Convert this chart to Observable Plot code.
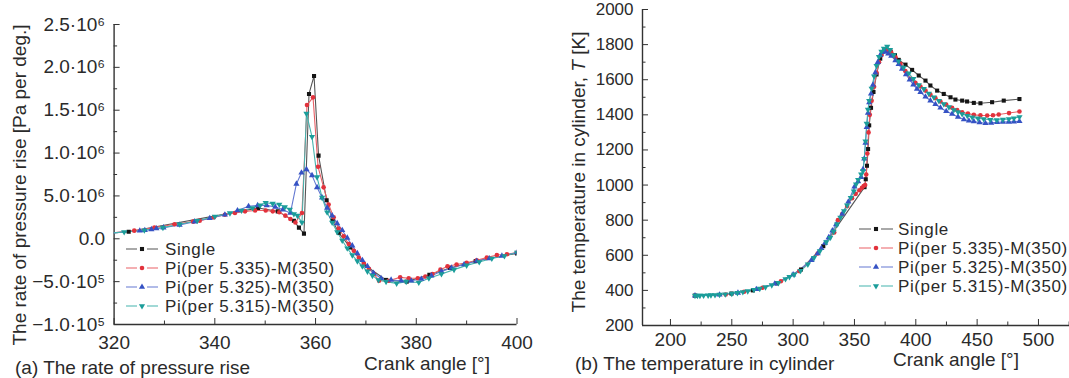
<!DOCTYPE html>
<html>
<head>
<meta charset="utf-8">
<script src="https://cdn.jsdelivr.net/npm/d3@7"></script>
<script src="https://cdn.jsdelivr.net/npm/@observablehq/plot@0.6"></script>
<style>
html, body { margin: 0; padding: 0; background: #fff; }
#wrap { position: relative; width: 1069px; height: 378px; overflow: hidden; background: #fff; }
#left { position: absolute; left: 0; top: 0; }
#right { position: absolute; left: 540px; top: 0; }
</style>
</head>
<body>
<div id="wrap"><div id="left"></div><div id="right"></div></div>
<script>
// ---------- series ----------
const seriesNames = ["Single", "Pi(per 5.335)-M(350)", "Pi(per 5.325)-M(350)", "Pi(per 5.315)-M(350)"];
const markColors = ["#151515", "#e2323c", "#3552c4", "#1b9d9a"];
const lineColors = ["#555555", "#ea6066", "#6479d2", "#45b3ae"];
const markSymbols = ["square", "circle", "triangle", "triangle"];
const markRotate = [0, 0, 0, 180];

// ---------- panel (a): rate of pressure rise, units of 10^6 Pa/deg ----------
const aSingleX = [318, 322.9, 348.6, 352.5, 355.7, 356.7, 357.7, 358.7, 359.7, 360.6, 362.2, 363.4, 364.6, 366.9, 369.6, 374.0, 378.1, 382.6, 386.7, 391.8, 400];
const aSingleY = [0.06, 0.082, 0.36, 0.32, 0.21, 0.13, 0.06, 1.69, 1.90, 0.97, 0.45, 0.21, 0.07, -0.10, -0.30, -0.48, -0.50, -0.42, -0.34, -0.26, -0.17];

const a5335X = [318, 324, 328, 332, 335.7, 337, 339.8, 342, 344, 346, 348, 350.1, 351.5, 352.8, 354, 355, 356, 357.3, 358.3, 359.5, 360.5, 361.6, 362.6, 363.6, 364.6, 365.6, 366.6, 367.6, 368.6, 369.6, 370.6, 371.6, 372.6, 374.5, 376.8, 378.5, 380.3, 381.8, 383.2, 384.8, 386.2, 388, 390, 392, 394, 396, 398, 400];
const a5335Y = [0.06, 0.095, 0.13, 0.17, 0.20, 0.21, 0.25, 0.28, 0.30, 0.32, 0.33, 0.33, 0.32, 0.31, 0.27, 0.23, 0.19, 0.30, 1.56, 1.65, 0.84, 0.60, 0.40, 0.25, 0.12, 0.03, -0.06, -0.14, -0.22, -0.29, -0.35, -0.41, -0.49, -0.49, -0.45, -0.46, -0.46, -0.44, -0.41, -0.36, -0.32, -0.30, -0.28, -0.25, -0.22, -0.19, -0.18, -0.16];

const a5325X = [318, 325.1, 326.1, 327.4, 328.4, 329.8, 333, 336, 339, 342, 344.5, 346.7, 348.5, 350.3, 352, 353.5, 355, 356.2, 357.2, 358.2, 359.3, 360.3, 361.3, 362.3, 363.3, 364.3, 365.3, 366.3, 367.3, 368.3, 369.3, 370.3, 371.5, 373, 375, 377, 379, 381, 383, 385, 387, 389.5, 392, 394.5, 397, 400];
const a5325Y = [0.06, 0.094, 0.10, 0.11, 0.12, 0.13, 0.16, 0.20, 0.24, 0.28, 0.33, 0.38, 0.39, 0.39, 0.37, 0.34, 0.30, 0.64, 0.77, 0.81, 0.74, 0.60, 0.48, 0.36, 0.27, 0.18, 0.10, 0.01, -0.08, -0.17, -0.25, -0.32, -0.40, -0.46, -0.48, -0.49, -0.49, -0.47, -0.43, -0.38, -0.34, -0.30, -0.26, -0.23, -0.20, -0.16];

const a5315X = [318, 322, 326, 329.7, 333, 336.5, 340, 343, 345.3, 347.5, 349, 350.1, 351.5, 352.8, 353.9, 354.9, 355.7, 356.4, 357.3, 358.2, 359.3, 360.3, 361.3, 362.3, 363.3, 364.3, 365.3, 366.3, 367.3, 368.3, 369.3, 370.3, 371.3, 372.5, 374, 376.1, 378, 380.5, 382.5, 385, 387.5, 390, 392.5, 395, 397.5, 400];
const a5315Y = [0.06, 0.08, 0.10, 0.13, 0.17, 0.21, 0.26, 0.30, 0.33, 0.36, 0.39, 0.42, 0.41, 0.40, 0.37, 0.34, 0.29, 0.27, 0.19, 1.46, 1.19, 0.72, 0.48, 0.31, 0.19, 0.08, -0.02, -0.11, -0.19, -0.26, -0.32, -0.38, -0.43, -0.48, -0.50, -0.52, -0.50, -0.51, -0.46, -0.41, -0.36, -0.31, -0.27, -0.23, -0.20, -0.16];

const aXTicks = [320, 340, 360, 380, 400];
const aXMinor = [330, 350, 370, 390];
const aYTicks = [-1, -0.5, 0, 0.5, 1, 1.5, 2, 2.5];
const aYTickLabels = ["\u22121.0\u00b710\u2075", "\u22125.0\u00b710\u2075", "0.0", "5.0\u00b710\u2076", "1.0\u00b710\u2076", "1.5\u00b710\u2076", "2.0\u00b710\u2076", "2.5\u00b710\u2076"];
const aYMinor = [-0.75, -0.25, 0.25, 0.75, 1.25, 1.75, 2.25];

// ---------- panel (b): temperature in cylinder, K ----------
const bSingleX = [220, 249.8, 267.2, 286.8, 306.4, 324.6, 358.2, 359.2, 360.2, 361.1, 362, 363.5, 365.5, 368, 371, 375.3, 379.5, 383, 386.1, 391.6, 397, 402.4, 407.9, 411.9, 417.4, 422.8, 428.3, 432.3, 437.8, 441.8, 447.3, 452.7, 462.2, 471.7, 484.5];
const bSingleY = [370, 382, 400, 440, 519, 652, 988, 1033, 1110, 1205, 1340, 1440, 1530, 1630, 1720, 1768, 1760, 1740, 1713, 1686, 1656, 1624, 1595, 1567, 1538, 1519, 1500, 1487, 1481, 1476, 1468, 1466, 1472, 1481, 1490];

const b5335X = [220, 245, 260, 275, 290, 305, 320, 333.5, 336.5, 340, 344, 348, 351, 354, 356.1, 357.5, 358.7, 359.6, 360.5, 361.5, 362.5, 364, 366, 368, 370, 372, 374.5, 377, 380, 383.5, 387.5, 391.5, 395.6, 399.7, 403.8, 407.9, 411.9, 416, 420.1, 424.8, 429.6, 433.7, 437.8, 442.5, 447.3, 452.7, 458.2, 462.9, 467.6, 476, 484.5];
const b5335Y = [370, 377, 392, 415, 452, 510, 610, 730, 800, 835, 880, 925, 950, 970, 985, 995, 1000, 1060, 1180, 1300, 1400, 1480, 1560, 1640, 1700, 1740, 1763, 1768, 1755, 1728, 1690, 1650, 1605, 1582, 1561, 1538, 1515, 1495, 1476, 1458, 1440, 1427, 1415, 1407, 1400, 1397, 1396, 1398, 1402, 1410, 1419];

const b5325X = [220, 240, 255, 270, 285, 300, 315, 320, 323, 326, 329, 332, 335, 340, 345, 350, 353, 355.5, 357, 358, 359, 360, 361, 362, 363.5, 365, 367, 369, 371, 373, 375, 377.5, 380, 383.4, 386, 388.8, 392, 395, 398, 401, 403.8, 407.9, 411.9, 416, 420.1, 424.8, 429.6, 434.4, 439.2, 443.3, 447.3, 452, 456.8, 461.5, 466.3, 471, 475.8, 480, 484.5];
const b5325Y = [370, 375, 386, 406, 438, 490, 572, 610, 640, 670, 702, 740, 775, 835, 905, 990, 1020, 1045, 1090, 1150, 1240, 1330, 1410, 1470, 1520, 1570, 1640, 1700, 1740, 1758, 1760, 1748, 1735, 1710, 1688, 1662, 1630, 1600, 1572, 1548, 1529, 1503, 1481, 1460, 1440, 1420, 1405, 1388, 1373, 1366, 1362, 1356, 1352, 1354, 1358, 1359, 1360, 1361, 1363];

const b5315X = [220, 222, 224, 227, 230.7, 233, 236.3, 240, 244.7, 250, 254.6, 259, 263, 268, 272.8, 277.5, 282.6, 288, 293.8, 297, 300.8, 306, 312, 317, 321.8, 327, 330.2, 333, 335.8, 338.5, 341.5, 344, 347, 349.5, 351.3, 353, 355.5, 357, 358, 359, 360, 361, 362, 364, 366, 368, 370, 372, 374, 376.7, 379, 382, 386, 390, 394.3, 398, 402.5, 406.5, 410.6, 414.7, 418.8, 422.8, 427, 431, 434.4, 437.8, 442, 446, 450.7, 455.4, 460.7, 466, 471, 475.9, 480, 484.5];
const b5315Y = [370, 370, 370, 371, 372, 373, 374, 376, 378, 382, 386, 391, 396, 404, 410, 419, 430, 443, 465, 477, 490, 512, 548, 585, 624, 675, 700, 735, 776, 815, 852, 885, 928, 965, 1004, 1030, 1061, 1080, 1150, 1250, 1350, 1430, 1480, 1550, 1620, 1680, 1730, 1760, 1778, 1789, 1770, 1740, 1705, 1670, 1637, 1605, 1570, 1548, 1522, 1500, 1480, 1462, 1444, 1428, 1416, 1405, 1395, 1386, 1380, 1376, 1372, 1371, 1373, 1376, 1381, 1388];

const bXTicks = [200, 250, 300, 350, 400, 450, 500];
const bXMinor = [225, 275, 325, 375, 425, 475, 525];
const bYTicks = [200, 400, 600, 800, 1000, 1200, 1400, 1600, 1800, 2000];
const bYMinor = [300, 500, 700, 900, 1100, 1300, 1500, 1700, 1900];

// ---------- drawing ----------
const AXIS = "#333333";
const TEXT = "#2a2a2a";
const FONT = "'Liberation Sans', Arial, Helvetica, sans-serif";
const R = 2.3;

function panel(cfg) {
  const marks = [
    Plot.ruleX([cfg.xDomain[0]], {stroke: AXIS, strokeWidth: 1.4}),
    Plot.ruleY([cfg.yDomain[0]], {stroke: AXIS, strokeWidth: 1.4}),
    Plot.axisX(cfg.xMinor, {tickSize: -3.5, tickFormat: () => "", label: null, stroke: AXIS}),
    Plot.axisX(cfg.xTicks, {tickSize: -6, tickPadding: cfg.xPad, tickFormat: d => String(d), label: null, fontSize: 19, fill: TEXT, stroke: AXIS}),
    Plot.axisY(cfg.yMinor, {tickSize: -3.5, tickFormat: () => "", label: null, stroke: AXIS}),
    Plot.axisY(cfg.yTicks, {tickSize: -6, tickPadding: 15, tickFormat: cfg.yFormat, label: null, fontSize: cfg.yFont, fill: TEXT, stroke: AXIS})
  ];
  const rowsAll = cfg.series.map(s => s.x.map((x, j) => ({x, y: s.y[j]})));
  rowsAll.forEach((rows, i) => {
    marks.push(Plot.line(rows, {x: "x", y: "y", stroke: lineColors[i], strokeWidth: 1.1, clip: true}));
  });
  rowsAll.forEach((rows, i) => {
    marks.push(Plot.dot(rows, {x: "x", y: "y", symbol: markSymbols[i], rotate: markRotate[i], r: R, fill: markColors[i], stroke: "none", clip: true}));
  });
  return Plot.plot({
    width: cfg.width, height: 378,
    marginLeft: cfg.ml, marginRight: cfg.mr, marginTop: cfg.mt, marginBottom: cfg.mb,
    x: {domain: cfg.xDomain, label: null},
    y: {domain: cfg.yDomain, label: null},
    style: {fontFamily: FONT, fontSize: "19px", color: AXIS, background: "transparent", overflow: "visible"},
    marks
  });
}

const d3Sym = {square: d3.symbolSquare, circle: d3.symbolCircle, triangle: d3.symbolTriangle};

function decorate(svg, opt) {
  const s = d3.select(svg);
  const g = s.append("g").attr("font-family", FONT).attr("fill", TEXT).attr("text-anchor", "start");
  // legend
  seriesNames.forEach((name, i) => {
    const y = opt.legY + i * opt.legDy;
    g.append("line")
      .attr("x1", opt.legX).attr("x2", opt.legX + opt.legW)
      .attr("y1", y).attr("y2", y)
      .attr("stroke", lineColors[i]).attr("stroke-width", 1.2)
      .attr("stroke-dasharray", opt.legDash);
    g.append("path")
      .attr("d", d3.symbol(d3Sym[markSymbols[i]], Math.PI * R * R)())
      .attr("transform", `translate(${opt.legX + opt.legW / 2},${y}) rotate(${markRotate[i]})`)
      .attr("fill", markColors[i]);
    g.append("text")
      .attr("x", opt.legTextX).attr("y", y).attr("dy", "0.33em")
      .attr("text-anchor", "start")
      .attr("font-size", opt.legFont)
      .attr("letter-spacing", "0.6px")
      .text(name);
  });
  // y title
  const yt = g.append("text")
    .attr("transform", `translate(${opt.ytX},${opt.ytY}) rotate(-90)`)
    .attr("text-anchor", "middle").attr("dy", "0.35em").attr("font-size", 19);
  opt.yTitle(yt);
  // x title
  g.append("text").attr("x", opt.xtX).attr("y", opt.xtY).attr("dy", "0.35em")
    .attr("text-anchor", "middle").attr("font-size", 19).text("Crank angle [\u00b0]");
  // caption
  g.append("text").attr("x", opt.capX).attr("y", opt.capY).attr("dy", "0.35em")
    .attr("text-anchor", "start")
    .attr("font-size", 19).text(opt.caption);
}

const aLabel = new Map(aYTicks.map((t, i) => [t, aYTickLabels[i]]));
const left = panel({
  width: 540, ml: 113.6, mr: 23.5, mt: 24, mb: 54,
  xDomain: [320, 400], yDomain: [-1, 2.5], xPad: 16.5,
  xTicks: aXTicks, xMinor: aXMinor, yTicks: aYTicks, yMinor: aYMinor,
  yFormat: d => aLabel.get(d), yFont: 19,
  series: [{x: aSingleX, y: aSingleY}, {x: a5335X, y: a5335Y}, {x: a5325X, y: a5325Y}, {x: a5315X, y: a5315Y}]
});
decorate(left, {
  legX: 126, legW: 32, legDash: "11 10 11", legY: 249, legDy: 19, legTextX: 165, legFont: 17,
  ytX: 19, ytY: 185, yTitle: t => t.text("The rate of pressure rise [Pa per deg.]"),
  xtX: 427, xtY: 363, capX: 15, capY: 367, caption: "(a) The rate of pressure rise"
});
document.getElementById("left").appendChild(left);

const right = panel({
  width: 529, ml: 102, mr: 0, mt: 9, mb: 53,
  xDomain: [177.2, 525.3], yDomain: [200, 2000], xPad: 13,
  xTicks: bXTicks, xMinor: bXMinor, yTicks: bYTicks, yMinor: bYMinor,
  yFormat: d => String(d), yFont: 17,
  series: [{x: bSingleX, y: bSingleY}, {x: b5335X, y: b5335Y}, {x: b5325X, y: b5325Y}, {x: b5315X, y: b5315Y}]
});
decorate(right, {
  legX: 319, legW: 34, legDash: "12 10 12", legY: 229, legDy: 19, legTextX: 358, legFont: 17,
  ytX: 38, ytY: 172, yTitle: t => {
    t.append("tspan").text("The temperature in cylinder, ");
    t.append("tspan").attr("font-style", "italic").text("T");
    t.append("tspan").text(" [K]");
  },
  xtX: 416, xtY: 359, capX: 35, capY: 363, caption: "(b) The temperature in cylinder"
});
document.getElementById("right").appendChild(right);
</script>
</body>
</html>
